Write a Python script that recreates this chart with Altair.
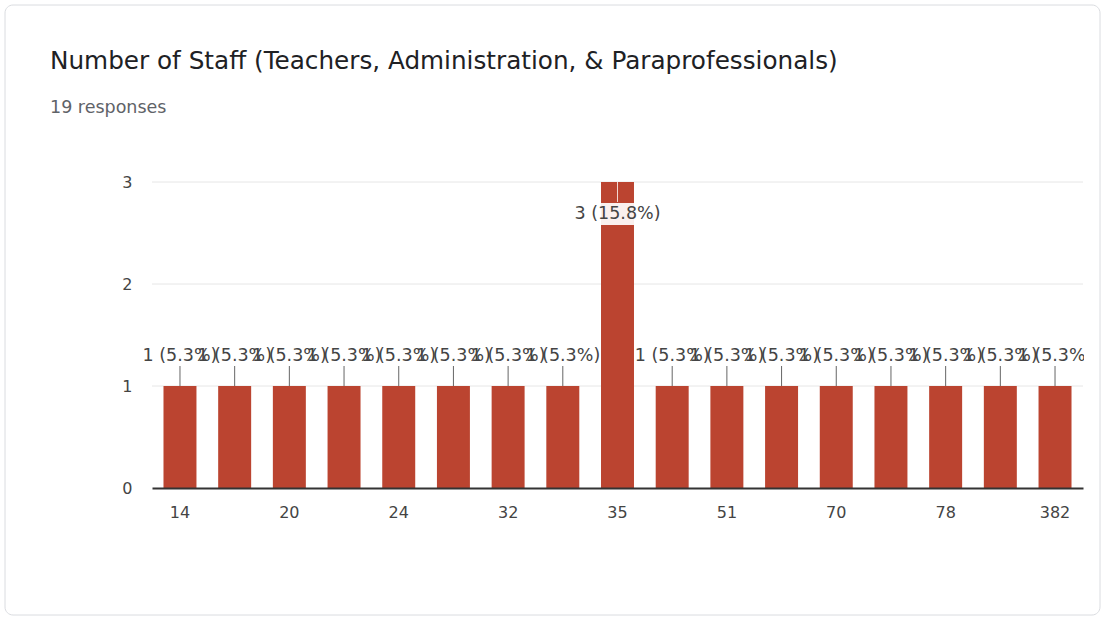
import altair as alt
import pandas as pd

categories = ["14", "15", "20", "22", "24", "30", "32", "34", "35", "40", "51", "65", "70", "75", "78", "100", "382"]
counts = [1, 1, 1, 1, 1, 1, 1, 1, 3, 1, 1, 1, 1, 1, 1, 1, 1]
shown_ticks = ["14", "20", "24", "32", "35", "51", "70", "78", "382"]
y_ticks = [0, 1, 2, 3]
title_text = "Number of Staff (Teachers, Administration, & Paraprofessionals)"
subtitle_text = "19 responses"

df = pd.DataFrame({"cat": categories, "count": counts})
grid_df = pd.DataFrame({"count": y_ticks[1:]})
one = pd.DataFrame({"k": [0]})

W, H = 931, 306
PL, PT = 152, 182
FONT = "DejaVu Sans"
BAR = "#bb4430"
TXT = "#444444"

base = alt.Chart(df).transform_joinaggregate(total="sum(count)").transform_calculate(
    label="datum.count + ' (' + format(datum.count / datum.total * 100, '.1f') + '%)'"
)

x = alt.X(
    "cat:N", sort=categories,
    scale=alt.Scale(paddingInner=0.397, paddingOuter=0.21),
    axis=alt.Axis(values=shown_ticks, title=None, labelAngle=0, ticks=False,
                  domainColor="#333333", domainWidth=2, labelFontSize=16,
                  labelColor=TXT, labelPadding=16, labelFont=FONT, grid=False,
                  zindex=1),
)
y = alt.Y(
    "count:Q", scale=alt.Scale(domain=[0, 3], nice=False),
    axis=alt.Axis(values=y_ticks, title=None, ticks=False, domain=False, grid=False,
                  labelFontSize=16, labelColor=TXT,
                  labelPadding=20, labelFont=FONT, format="d", zindex=1),
)

card = alt.Chart(one).mark_rect(fill="white", stroke="#dadce0", strokeWidth=1, cornerRadius=8).encode(
    x=alt.value(5 - PL), x2=alt.value(1100 - PL), y=alt.value(5 - PT), y2=alt.value(615 - PT)
)

grid = alt.Chart(grid_df).mark_rule(color="#e6e6e6", strokeWidth=1).encode(
    y=y, x=alt.value(0), x2=alt.value(W)
)

title = alt.Chart(one).mark_text(align="left", baseline="middle", fontSize=24.7, font=FONT, color="#202124").encode(
    x=alt.value(50 - PL), y=alt.value(62 - PT), text=alt.value(title_text)
)
subtitle = alt.Chart(one).mark_text(align="left", baseline="middle", fontSize=17.5, font=FONT, color="#5f6368").encode(
    x=alt.value(50 - PL), y=alt.value(108 - PT), text=alt.value(subtitle_text)
)

bars = base.mark_bar(color=BAR).encode(x=x, y=y)

small = base.transform_filter("datum.count < 3")
stems = small.mark_rule(color="#666666", strokeWidth=1, yOffset=-20, y2Offset=0).encode(
    x=x, y=y, y2=alt.Y2("count:Q")
)
labels = small.mark_text(dy=-30, fontSize=17.5, font=FONT, color=TXT, baseline="middle").encode(
    x=x, y=y, text="label:N"
)
# white mask at the right edge of the plot: labels are cut at the chart area
mask = alt.Chart(one).mark_rect(fill="white").encode(
    x=alt.value(W + 1), x2=alt.value(1099 - PL), y=alt.value(335 - PT), y2=alt.value(375 - PT)
)

big = base.transform_filter("datum.count >= 3")
big_box = big.mark_bar(color="white", opacity=0.92, yOffset=21, y2Offset=43).encode(
    x=x, y=y, y2=alt.Y2("count:Q")
)
big_stem = big.mark_rule(color="#f3d6d0", strokeWidth=1, y2Offset=20).encode(
    x=x, y=y, y2=alt.Y2("count:Q")
)
big_label = big.mark_text(dy=32, fontSize=17.5, font=FONT, color=TXT, baseline="middle").encode(
    x=x, y=y, text="label:N"
)

chart = alt.layer(card, grid, title, subtitle, bars, stems, labels, mask, big_box, big_stem, big_label).properties(
    width=W, height=H,
    padding={"left": PL, "top": PT, "right": 1105 - PL - W, "bottom": 618 - PT - H},
    autosize=alt.AutoSizeParams(type="none"),
    background="white",
).configure_view(stroke=None)

chart.save("out.html", embed_options={"renderer": "svg", "actions": False})
